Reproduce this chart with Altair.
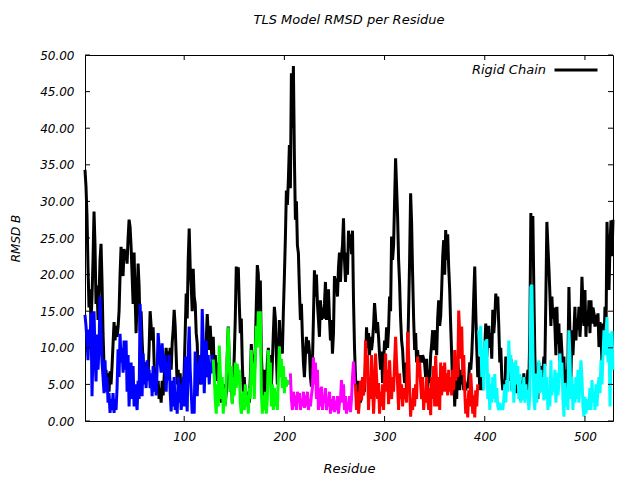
import altair as alt
import pandas as pd

# ---------------- data ----------------
rigid_chain = [
    34.3, 32.0, 28.0, 21.0, 15.5, 18.0, 13.5, 17.0, 22.0, 28.6,
    24.0, 16.0, 18.5, 13.8, 17.0, 22.0, 24.2, 19.0, 12.0, 7.5,
    5.0, 7.0, 4.2, 6.5, 4.0, 6.8, 5.0, 7.5, 10.5, 13.5,
    11.0, 13.0, 11.5, 12.8, 15.0, 20.0, 23.8, 21.0, 19.8, 23.5,
    22.0, 23.3, 21.5, 25.0, 27.5, 26.5, 23.8, 20.0, 16.0, 23.0,
    17.0, 12.0, 16.5, 21.5, 18.4, 12.3, 15.0, 11.0, 8.0, 6.5,
    8.0, 6.0, 7.5, 6.2, 10.0, 15.0, 13.0, 11.0, 12.8, 8.0,
    4.5, 6.0, 3.8, 5.5, 3.0, 4.5, 2.5, 5.5, 3.5, 6.0,
    8.0, 10.0, 7.5, 9.5, 8.0, 10.0, 7.0, 10.6, 12.5, 15.2,
    13.0, 9.0, 5.0, 7.0, 4.0, 6.5, 3.3, 5.5, 4.0, 7.0,
    12.0, 17.4, 14.0, 22.0, 26.3, 21.0, 18.6, 15.0, 20.8, 17.0,
    16.0, 12.0, 10.6, 6.0, 8.5, 5.0, 7.0, 7.4, 9.0, 6.0,
    8.0, 11.0, 14.6, 12.0, 9.7, 13.0, 10.0, 8.0, 11.5, 7.0,
    9.0, 7.0, 5.5, 8.0, 4.0, 5.0, 2.5, 4.5, 3.0, 5.0,
    2.3, 4.0, 9.0, 12.9, 8.0, 4.0, 7.0, 2.5, 5.0, 9.0,
    14.0, 21.1, 19.0, 21.0, 16.0, 12.0, 14.0, 8.0, 4.0, 6.0,
    3.0, 4.0, 2.3, 3.5, 2.5, 6.0, 10.5, 7.0, 9.0, 6.0,
    10.0, 16.0, 21.3, 20.0, 14.0, 19.2, 9.0, 6.0, 3.0, 7.0,
    2.4, 5.0, 8.0, 10.0, 6.0, 9.0, 4.7, 8.0, 12.0, 15.6,
    14.0, 9.0, 5.0, 8.0, 13.8, 10.0, 12.0, 9.2, 15.0, 19.7,
    25.0, 31.5, 29.5, 33.0, 37.7, 31.8, 47.5, 40.0, 48.5, 36.0,
    27.5, 30.0, 24.0, 22.9, 18.0, 13.8, 16.0, 11.5, 8.0, 6.0,
    9.0, 11.5, 9.2, 11.0, 9.5, 6.0, 4.7, 8.0, 14.0, 20.6,
    17.0, 20.0, 16.0, 13.8, 11.5, 16.5, 13.8, 15.5, 14.0, 16.0,
    19.0, 13.8, 16.5, 18.0, 14.0, 11.0, 13.8, 9.2, 12.0, 19.8,
    18.0, 19.5, 17.0, 21.0, 23.0, 19.0, 22.5, 24.0, 27.7, 22.0,
    19.0, 23.0, 20.0, 26.0, 24.0, 25.5, 22.8, 26.0, 16.5, 10.0,
    6.0, 3.0, 5.5, 1.5, 4.0, 2.5, 5.5, 3.5, 6.0, 4.0,
    8.0, 12.8, 10.0, 12.0, 9.0, 11.5, 9.7, 11.0, 13.0, 16.1,
    14.2, 12.0, 13.5, 11.5, 9.0, 7.0, 9.5, 5.2, 8.0, 11.0,
    9.7, 12.8, 10.0, 12.5, 17.0, 15.0, 25.2, 22.0, 24.0, 30.0,
    35.9, 32.0, 28.0, 22.0, 18.8, 14.0, 11.0, 9.7, 7.0, 5.2,
    8.0, 3.5, 8.5, 15.2, 22.0, 31.1, 27.0, 20.0, 14.0, 9.7,
    12.0, 8.0, 9.7, 7.5, 8.5, 9.0, 8.0, 9.0, 8.5, 7.8,
    6.0, 8.5, 4.0, 7.0, 5.2, 9.0, 10.5, 12.4, 9.7, 11.0,
    12.4, 9.0, 14.0, 16.5, 13.0, 14.3, 18.0, 22.4, 24.7, 20.0,
    26.1, 22.0, 25.5, 21.0, 17.9, 13.0, 9.0, 4.5, 6.9, 2.0,
    5.5, 3.0, 8.8, 6.0, 4.2, 7.0, 5.0, 6.5, 4.2, 5.5,
    4.2, 5.0, 4.5, 6.0, 8.0, 7.0, 9.0, 12.4, 17.0, 21.1,
    15.0, 10.0, 6.0, 8.8, 4.2, 6.0, 9.0, 4.2, 7.0, 10.0,
    13.3, 8.8, 11.0, 13.0, 10.0, 12.0, 8.5, 15.2, 12.0, 14.0,
    17.4, 16.0, 17.0, 13.0, 8.0, 10.0, 6.0, 4.2, 5.5, 3.5,
    8.8, 6.5, 8.0, 5.5, 7.0, 8.5, 4.2, 7.5, 6.0, 5.0,
    6.5, 3.8, 5.5, 4.5, 6.0, 2.8, 5.5, 3.5, 6.5, 4.0,
    6.0, 4.2, 7.0, 5.5, 12.0, 28.4, 22.0, 28.0, 18.0, 9.0,
    4.2, 6.0, 3.0, 8.0, 4.2, 7.5, 5.0, 6.8, 8.8, 7.5,
    17.0, 27.2, 24.0, 21.0, 17.4, 13.0, 17.0, 14.0, 15.5, 13.0,
    9.0, 15.6, 10.5, 13.3, 8.0, 12.0, 9.5, 6.0, 8.8, 3.3,
    7.0, 4.5, 8.0, 18.3, 12.0, 6.0, 12.4, 9.0, 12.0, 15.6,
    11.0, 14.0, 12.5, 15.6, 11.5, 14.0, 19.7, 16.0, 13.0, 17.9,
    11.5, 15.0, 13.0, 16.5, 12.0, 16.5, 13.3, 15.5, 14.7, 12.9,
    14.5, 13.0, 14.7, 10.1, 13.5, 12.0, 8.0, 13.3, 10.0, 15.6,
    12.0, 27.2, 22.4, 17.9, 24.0, 27.4, 22.5, 27.5,
]

tls_blue = [
    14.5, 13.0, 11.0, 8.3, 12.5, 10.6, 14.8, 3.4, 10.0, 15.0,
    9.0, 5.4, 11.8, 7.0, 10.0, 17.0, 12.0, 8.0, 6.0, 3.8,
    8.3, 4.0, 6.0, 2.5, 3.8, 1.1, 3.0, 1.5, 3.8, 1.1,
    3.0, 1.5, 4.5, 9.8, 6.0, 11.9, 8.0, 10.0, 6.6, 11.0,
    7.0, 11.0, 4.0, 9.0, 2.0, 6.0, 8.0, 3.0, 7.5, 2.0,
    5.0, 3.0, 1.5, 5.5, 3.0, 16.0, 9.0, 3.4, 9.2, 5.0,
    7.5, 4.5, 8.3, 5.5, 7.0, 4.5, 6.5, 3.4, 7.5, 4.0,
    6.5, 3.5, 7.0, 12.0, 10.0, 8.0, 6.6, 10.6, 8.0, 6.6,
    9.0, 4.0, 8.0, 5.5, 9.0, 4.0, 1.3, 5.5, 2.0, 6.0,
    1.5, 4.0, 1.0, 6.0, 2.5, 5.0, 1.5, 3.5, 6.0, 2.0,
    8.8, 4.0, 1.3, 9.0, 12.9, 7.0, 4.0, 1.0, 2.5, 1.0,
    9.5, 5.0, 3.4, 8.0, 6.0, 9.0, 5.0, 15.3, 11.0, 3.8,
    8.0, 11.0, 6.0, 9.0, 5.0, 8.0, 6.5, 9.0,
]
tls_green = [
    8.4, 6.0, 3.0, 1.0, 5.0, 2.0, 10.3, 7.0, 3.0, 6.0, 1.0, 4.5,
    2.0, 6.0, 9.0, 12.8, 8.0, 4.0, 7.5, 2.3, 6.0, 3.5,
    8.0, 4.5, 7.8, 5.0, 7.0, 2.5, 1.0, 2.0, 4.0, 1.5,
    5.0, 2.0, 3.5, 1.0, 4.5, 3.0, 9.7, 5.0, 8.0, 3.0,
    9.0, 13.0, 10.0, 15.0, 11.0, 15.0, 4.0, 1.0, 3.5, 1.5,
    4.0, 1.0, 3.0, 9.7, 6.0, 8.0, 2.0, 5.0, 1.5, 4.5,
    2.0, 4.0, 1.5, 6.0, 10.2, 6.0, 8.5, 4.5, 7.5, 3.8,
    6.0, 4.7, 5.6, 5.0, 5.5,
]
tls_magenta = [
    6.5, 3.0, 1.5, 4.0, 2.0, 3.5, 1.5, 4.0, 2.5, 3.8,
    1.5, 3.0, 2.0, 4.0, 1.8, 3.5, 2.0, 4.0, 1.5, 3.0,
    2.0, 3.5, 4.5, 8.7, 5.0, 8.0, 3.0, 7.0, 1.5, 4.5,
    2.0, 4.7, 1.5, 3.5, 2.5, 4.5, 1.5, 3.0, 2.0, 4.0,
    1.0, 3.0, 1.5, 3.4, 1.2, 2.8, 1.5, 3.4, 1.0, 2.5,
    3.0, 5.6, 2.5, 5.0, 1.5, 3.4, 1.0, 2.5, 1.5, 3.4,
    1.2, 3.0, 6.0, 8.1, 5.0,
]
tls_red = [
    5.0, 1.5, 4.0, 1.0, 3.5, 5.5, 2.8, 6.0, 3.5, 5.0,
    11.0, 7.0, 9.0, 1.5, 6.0, 3.0, 9.0, 5.2, 1.0, 4.0,
    9.2, 6.0, 3.0, 5.2, 1.0, 4.0, 2.0, 5.0, 1.5, 6.0,
    9.2, 4.0, 7.0, 2.3, 8.3, 5.0, 3.0, 6.0, 4.0, 8.0,
    11.5, 8.0, 5.0, 1.5, 6.5, 3.0, 5.0, 2.0, 4.5, 3.0,
    4.3, 2.5, 12.2, 9.0, 4.5, 0.6, 3.0, 1.5, 4.5, 2.0,
    5.0, 3.0, 8.8, 6.0, 8.0, 5.0, 3.0, 6.0, 1.5, 4.0,
    2.5, 6.0, 3.5, 1.5, 4.5, 0.8, 6.0, 3.0, 7.5, 2.0,
    8.9, 5.0, 2.0, 6.0, 1.5, 8.0, 3.5, 7.5, 4.0, 8.0,
    4.0, 6.5, 3.5, 7.0, 4.0, 6.0, 3.5, 7.0, 4.2, 9.7,
    5.5, 8.0, 6.0, 15.1, 12.0, 8.5, 12.9, 6.3, 9.0, 4.2,
    1.0, 3.0, 0.5, 4.2, 2.0, 6.5, 4.0, 1.0, 3.5, 0.5,
    4.2, 2.0, 5.0,
]
tls_cyan = [
    12.4, 9.0, 13.0, 6.0, 10.0, 4.2, 11.0,
    7.0, 11.2, 3.0, 6.5, 1.5, 5.0, 2.5, 6.0, 3.0, 6.4,
    2.5, 4.5, 2.0, 1.5, 2.5, 1.5, 2.2, 1.5, 3.0, 5.0,
    2.5, 5.6, 4.0, 11.0, 7.0, 9.0, 4.0, 8.0, 2.5, 6.0,
    8.3, 5.0, 7.5, 3.0, 6.4, 2.5, 5.0, 3.0, 6.0, 2.5,
    5.0, 3.0, 4.2, 1.5, 3.5, 18.3, 18.6, 10.0, 3.0, 1.5,
    6.5, 2.5, 5.0, 8.3, 3.8, 7.0, 4.0, 6.0, 2.8, 7.8,
    3.0, 6.0, 1.5, 4.2, 2.0, 8.3, 3.5, 6.0, 4.0, 7.0,
    2.5, 6.6, 3.5, 5.0, 9.2, 6.0, 8.0, 3.0, 0.6, 5.2,
    2.0, 4.0, 1.5, 12.4, 9.0, 3.0, 6.0, 1.5, 5.0, 2.5,
    6.0, 3.0, 7.0, 2.5, 5.5, 8.3, 6.0, 2.0, 0.6, 3.3,
    1.0, 3.0, 1.5, 2.5, 4.5, 1.5, 5.6, 2.5, 4.0, 1.5,
    5.0, 2.0, 4.5, 6.0, 3.8, 8.3, 5.0, 8.8, 12.4, 9.0,
    12.0, 14.2, 8.0, 12.0, 2.0, 9.0, 12.3, 7.0,
]

group_names = ["TLS 1", "TLS 2", "TLS 3", "TLS 4", "TLS 5"]
group_values = [tls_blue, tls_green, tls_magenta, tls_red, tls_cyan]
group_colors = ["#0000ff", "#00ff00", "#ff00ff", "#ff0000", "#00ffff"]

x_ticks = [100, 200, 300, 400, 500]
y_ticks = [0, 5, 10, 15, 20, 25, 30, 35, 40, 45, 50]

# ---------------- tables ----------------
black_df = pd.DataFrame({
    "Residue": list(range(1, len(rigid_chain) + 1)),
    "RMSD": rigid_chain,
    "series": ["Rigid Chain"] * len(rigid_chain),
})
rows = []
start = 1
for name, vals in zip(group_names, group_values):
    for i, v in enumerate(vals):
        rows.append({"Residue": start + i, "RMSD": v, "group": name})
    start += len(vals)
tls_df = pd.DataFrame(rows)
xt_df = pd.DataFrame({"v": x_ticks})
yt_df = pd.DataFrame({"v": y_ticks})

W, H = 528, 366
FONT = "DejaVu Sans"

xscale = alt.Scale(domain=[1, 528], nice=False, zero=False)
yscale = alt.Scale(domain=[0, 50], nice=False)

x_axis = alt.Axis(values=x_ticks, title="Residue", ticks=False, domain=False, grid=False,
                  labelPadding=10, titlePadding=20, format="d", labelOverlap=False,
                  labelFont=FONT, labelFontSize=12, labelFontStyle="italic", labelColor="black",
                  titleFont=FONT, titleFontSize=13, titleFontStyle="italic",
                  titleFontWeight="normal", titleColor="black")
y_axis = alt.Axis(values=y_ticks, title="RMSD B", ticks=False, domain=False, grid=False,
                  labelPadding=11, titlePadding=17, format=".2f", labelOverlap=False,
                  labelFont=FONT, labelFontSize=12, labelFontStyle="italic", labelColor="black",
                  titleFont=FONT, titleFontSize=12, titleFontStyle="italic",
                  titleFontWeight="normal", titleColor="black")

black = alt.Chart(black_df).mark_line(strokeWidth=3, strokeJoin="bevel").encode(
    x=alt.X("Residue:Q", scale=xscale, axis=x_axis, title="Residue"),
    y=alt.Y("RMSD:Q", scale=yscale, axis=y_axis, title="RMSD B"),
    color=alt.Color("series:N", scale=alt.Scale(domain=["Rigid Chain"], range=["#000000"]),
                    legend=alt.Legend(title=None, orient="none", legendX=468, legendY=-8,
                                      symbolType="stroke", symbolSize=1849,
                                      symbolStrokeWidth=3, labelAlign="right",
                                      labelOffset={"expr": "-53"}, labelFontSize=13,
                                      labelFont=FONT, labelFontStyle="italic",
                                      labelColor="black")),
)

tls = alt.Chart(tls_df).mark_line(strokeWidth=3, strokeJoin="bevel").encode(
    x=alt.X("Residue:Q", scale=xscale, axis=x_axis, title="Residue"),
    y=alt.Y("RMSD:Q", scale=yscale, axis=y_axis, title="RMSD B"),
    color=alt.Color("group:N", scale=alt.Scale(domain=group_names, range=group_colors), legend=None),
)

ytick_l = alt.Chart(yt_df).mark_rule(color="black", strokeWidth=1).encode(
    y=alt.Y("v:Q", scale=yscale, axis=y_axis, title="RMSD B"), x=alt.value(0), x2=alt.value(5))
ytick_r = alt.Chart(yt_df).mark_rule(color="black", strokeWidth=1).encode(
    y=alt.Y("v:Q", scale=yscale, axis=y_axis, title="RMSD B"), x=alt.value(W - 5), x2=alt.value(W))
xtick_b = alt.Chart(xt_df).mark_rule(color="black", strokeWidth=1).encode(
    x=alt.X("v:Q", scale=xscale, axis=x_axis, title="Residue"), y=alt.value(H), y2=alt.value(H - 5))
xtick_t = alt.Chart(xt_df).mark_rule(color="black", strokeWidth=1).encode(
    x=alt.X("v:Q", scale=xscale, axis=x_axis, title="Residue"), y=alt.value(0), y2=alt.value(5))

chart = alt.layer(black, tls, ytick_l, ytick_r, xtick_b, xtick_t).resolve_scale(
    color="independent"
).properties(
    width=W, height=H,
    background="white",
    title=alt.TitleParams("TLS Model RMSD per Residue", font=FONT, fontSize=13,
                          fontStyle="italic", fontWeight="normal", color="black", offset=20),
    autosize=alt.AutoSizeParams(type="none"),
    padding={"left": 85, "top": 55, "right": 27, "bottom": 59},
).configure_view(
    stroke="black", strokeWidth=1
)

chart.save("out.html", embed_options={"renderer": "svg", "actions": False})
